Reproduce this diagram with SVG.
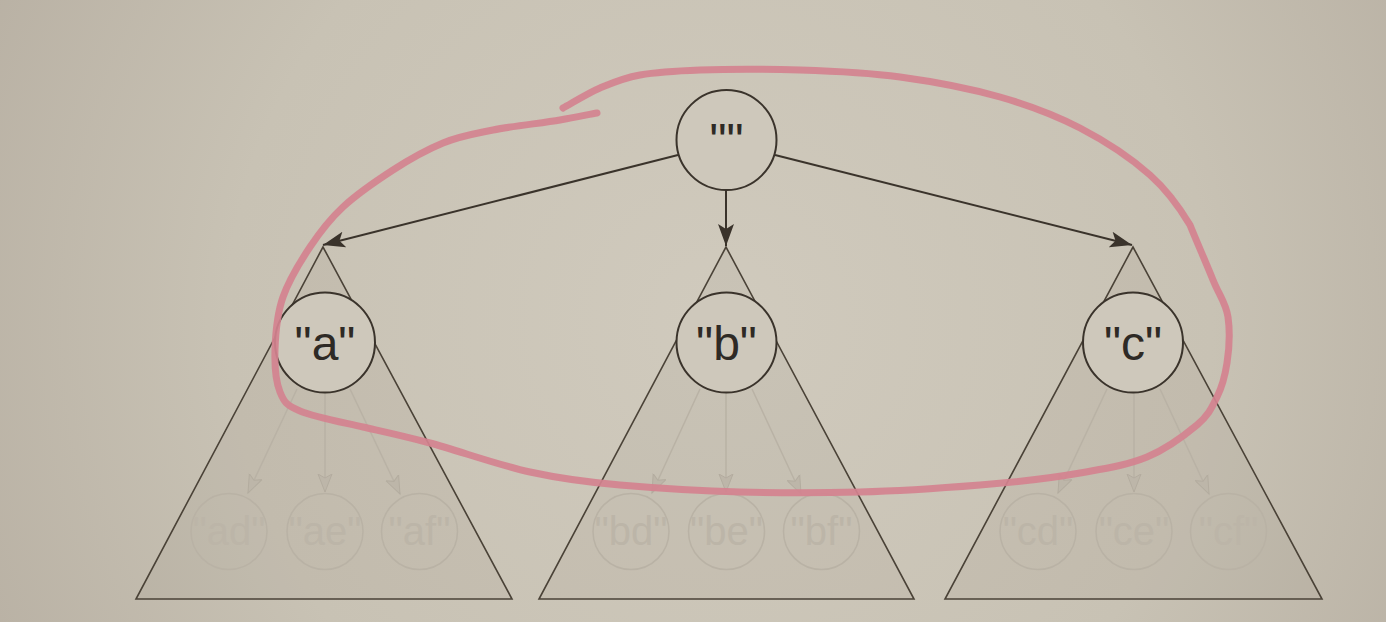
<svg xmlns="http://www.w3.org/2000/svg" width="1386" height="622" viewBox="0 0 1386 622">
<defs>
<radialGradient id="bg" cx="720" cy="320" r="820" gradientUnits="userSpaceOnUse">
<stop offset="0" stop-color="#d0cabd"/>
<stop offset="0.6" stop-color="#c8c2b4"/>
<stop offset="1" stop-color="#b8b0a3"/>
</radialGradient>
<marker id="arr" markerUnits="userSpaceOnUse" markerWidth="24" markerHeight="18" viewBox="0 0 24 18" refX="22" refY="9" orient="auto">
<path d="M0,1 L22,9 L0,17 L5,9 z" fill="#3a332b"/>
</marker>
<marker id="arrf" markerUnits="userSpaceOnUse" markerWidth="20" markerHeight="16" viewBox="0 0 20 16" refX="18" refY="8" orient="auto">
<path d="M0,1 L18,8 L0,15 L4,8 z" fill="#bdb6a9" stroke="#b3ac9f" stroke-width="1"/>
</marker>
<style>
.tri{fill:#7a7060;fill-opacity:0.08;stroke:#4a4237;stroke-width:1.6}
.node{fill:#cec8bb;stroke:#3a332b;stroke-width:2}
.lbl{font-family:"Liberation Sans",Arial,sans-serif;font-size:48px;fill:#2e2a25;text-anchor:middle}
.fnode{fill:none;stroke:#b9b2a5;stroke-width:1.5}
.flbl{font-family:"Liberation Sans",Arial,sans-serif;font-size:40px;fill:#bcb5a8;text-anchor:middle}
.edge{stroke:#3a332b;stroke-width:2;fill:none;marker-end:url(#arr)}
.fedge{stroke:#b9b2a5;stroke-width:1.5;fill:none;marker-end:url(#arrf)}
.ink{fill:none;stroke:#d4828f;stroke-width:7;stroke-linecap:round;stroke-linejoin:round;opacity:0.92}
</style>
</defs>
<rect width="1386" height="622" fill="url(#bg)"/>

<g id="subtrees">
<polygon class="tri" points="323,247 136,599 512,599"/>
<polygon class="tri" points="726,247 539,599 914,599"/>
<polygon class="tri" points="1133,247 945,599 1322,599"/>
</g>

<g id="connectors">
<line class="edge" x1="678" y1="155" x2="323" y2="245"/>
<line class="edge" x1="726" y1="190" x2="726" y2="246"/>
<line class="edge" x1="775" y1="155" x2="1132" y2="245"/>
<line class="fedge" x1="297" y1="389" x2="248" y2="493"/>
<line class="fedge" x1="325" y1="392" x2="325" y2="492"/>
<line class="fedge" x1="350" y1="389" x2="400" y2="494"/>
<line class="fedge" x1="700" y1="389" x2="652" y2="493"/>
<line class="fedge" x1="726" y1="392" x2="726" y2="492"/>
<line class="fedge" x1="752" y1="389" x2="801" y2="494"/>
<line class="fedge" x1="1107" y1="389" x2="1058" y2="493"/>
<line class="fedge" x1="1134" y1="392" x2="1134" y2="492"/>
<line class="fedge" x1="1160" y1="389" x2="1209" y2="494"/>
</g>

<g id="node-root"><circle class="node" cx="726.5" cy="140" r="50"/><text class="lbl" x="726.5" y="157">""</text></g>
<g id="node-a"><circle class="node" cx="325" cy="342.5" r="50"/><text class="lbl" x="325" y="360">"a"</text></g>
<g id="node-b"><circle class="node" cx="726.5" cy="342.5" r="50"/><text class="lbl" x="726.5" y="360">"b"</text></g>
<g id="node-c"><circle class="node" cx="1133" cy="342.5" r="50"/><text class="lbl" x="1133" y="360">"c"</text></g>

<g id="node-ad"><circle class="fnode" cx="229" cy="531.5" r="38"/><text class="flbl" x="229" y="545">"ad"</text></g>
<g id="node-ae"><circle class="fnode" cx="325" cy="531.5" r="38"/><text class="flbl" x="325" y="545">"ae"</text></g>
<g id="node-af"><circle class="fnode" cx="419.5" cy="531.5" r="38"/><text class="flbl" x="419.5" y="545">"af"</text></g>
<g id="node-bd"><circle class="fnode" cx="631" cy="531.5" r="38"/><text class="flbl" x="631" y="545">"bd"</text></g>
<g id="node-be"><circle class="fnode" cx="726.5" cy="531.5" r="38"/><text class="flbl" x="726.5" y="545">"be"</text></g>
<g id="node-bf"><circle class="fnode" cx="821.5" cy="531.5" r="38"/><text class="flbl" x="821.5" y="545">"bf"</text></g>
<g id="node-cd"><circle class="fnode" cx="1038" cy="531.5" r="38"/><text class="flbl" x="1038" y="545">"cd"</text></g>
<g id="node-ce"><circle class="fnode" cx="1134" cy="531.5" r="38"/><text class="flbl" x="1134" y="545">"ce"</text></g>
<g id="node-cf"><circle class="fnode" cx="1228.5" cy="531.5" r="38"/><text class="flbl" x="1228.5" y="545">"cf"</text></g>

<g id="annotation">
<path class="ink" d="M597,113 C591,114 577,117 560,120 C543,123 512.5,126 493,130 C473.5,134 460,136 443,143 C426,150 410,159 393,170 C376,181 357,194 343,207 C329,220 320,232 310,247 C300,262 289,280 283,297 C277,314 275.5,334 275,350 C274.5,366 276,382 280,392 C284,402 286,405 300,411 C314,417 341,422 363,427 C385,432 402,435.5 430,443 C458,450.5 498,465 530,472 C562,479 585,482 620,485 C655,488 700,491 740,492 C780,493 820,493 860,492 C900,491 943,488 980,485 C1017,482 1052,478 1080,473 C1108,468 1127.5,465 1147,457 C1166.5,449 1185,435 1197,425 C1209,415 1212,407 1217,397 C1222,387 1225,376 1227,363 C1229,350 1230,331 1228,317 C1226,303 1219,295 1213,280 C1207,265 1196,240 1190,225 C1179.5,207.5 1168,191 1150,175 C1132,159 1105,141 1080,128 C1055,115 1030,105.5 1000,97 C970,88.5 933,81.5 900,77 C867,72.5 833,71 800,70 C767,69 727,69 700,70 C673,71 657,72 640,75 C623,78 613,82.5 600,88 C587,93.5 569,105 563,108"/>
</g>
</svg>
